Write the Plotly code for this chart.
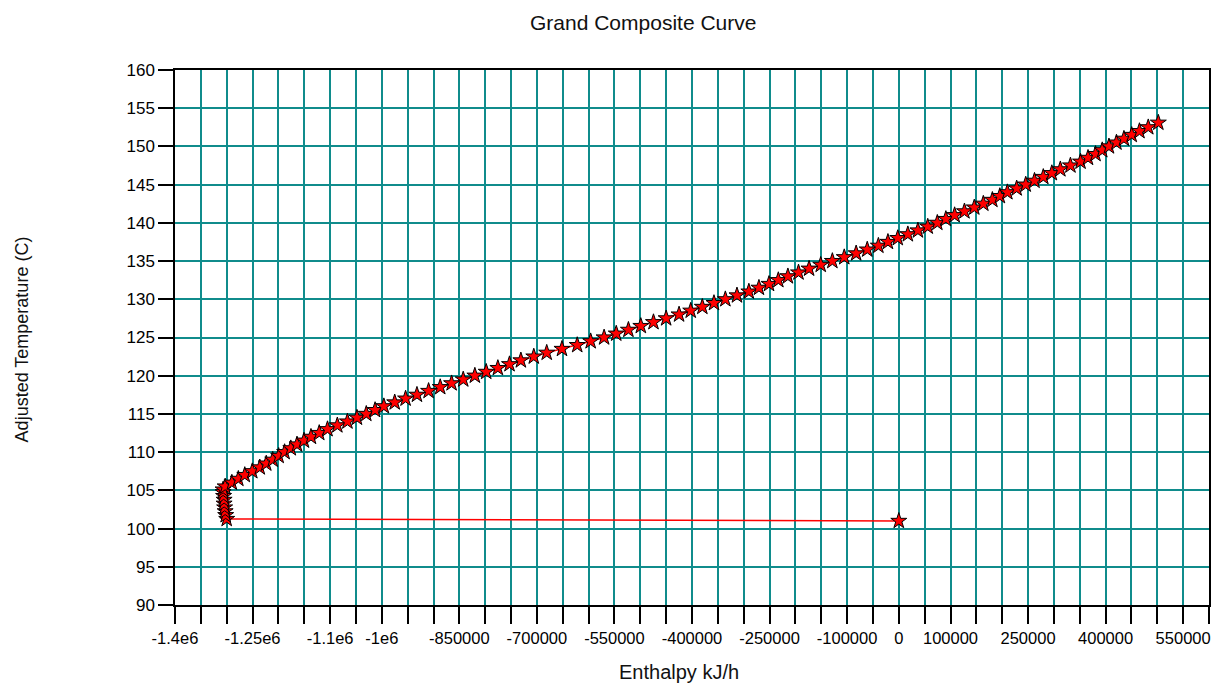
import plotly.graph_objects as go

# ---- data ----
# Horizontal leg + vertical stack at the pinch region
leg_enthalpy = [0, -1300000, -1302000, -1303000, -1304000, -1305000, -1305000, -1306000, -1307000, -1307000]
leg_temperature = [101.0, 101.25, 101.75, 102.25, 102.75, 103.25, 103.75, 104.25, 104.75, 105.1]

# Main curve of the grand composite
curve_temperature = [
    105.5, 106.0, 106.5, 107.0, 107.5, 108.0, 108.5, 109.0, 109.5, 110.0,
    110.5, 111.0, 111.5, 112.0, 112.5, 113.0, 113.5, 114.0, 114.5, 115.0,
    115.5, 116.0, 116.5, 117.0, 117.5, 118.0, 118.5, 119.0, 119.5, 120.0,
    120.5, 121.0, 121.5, 122.0, 122.5, 123.0, 123.5, 124.0, 124.5, 125.0,
    125.5, 126.0, 126.5, 127.0, 127.5, 128.0, 128.5, 129.0, 129.5, 130.0,
    130.5, 131.0, 131.5, 132.0, 132.5, 133.0, 133.5, 134.0, 134.5, 135.0,
    135.5, 136.0, 136.5, 137.0, 137.5, 138.0, 138.5, 139.0, 139.5, 140.0,
    140.5, 141.0, 141.5, 142.0, 142.5, 143.0, 143.5, 144.0, 144.5, 145.0,
    145.5, 146.0, 146.5, 147.0, 147.5, 148.0, 148.5, 149.0, 149.5, 150.0,
    150.5, 151.0, 151.5, 152.0, 152.5, 153.1,
]
curve_enthalpy = [
    -1303000, -1290000, -1277500, -1265000, -1250500, -1236000, -1223500, -1211000, -1199500, -1188000,
    -1176000, -1164000, -1150500, -1137000, -1121000, -1105000, -1086000, -1066500, -1048000, -1030000,
    -1013000, -996000, -975000, -954000, -932000, -909500, -887000, -865000, -842500, -820000,
    -798000, -775500, -753000, -731000, -706000, -681000, -651500, -622000, -596000, -570000,
    -546500, -523000, -499000, -474500, -450000, -425000, -402500, -380000, -357500, -335500,
    -313000, -290000, -270500, -251000, -233000, -214500, -194000, -173500, -151000, -128500,
    -105500, -82500, -61000, -39500, -21000, -2000, 17500, 37000, 56000, 74500,
    91000, 108000, 127000, 146000, 163500, 181000, 195500, 210000, 228000, 245500,
    262500, 279500, 296000, 312500, 332000, 351500, 366000, 380500, 393500, 406500,
    421000, 435500, 450500, 465500, 482500, 502000,
]

# ---- axis ticks ----
x_tick_values = list(range(-1400000, 600001, 50000))
x_tick_labels_shown = {
    -1400000: "-1.4e6", -1250000: "-1.25e6", -1100000: "-1.1e6", -1000000: "-1e6",
    -850000: "-850000", -700000: "-700000", -550000: "-550000", -400000: "-400000",
    -250000: "-250000", -100000: "-100000", 0: "0", 100000: "100000",
    250000: "250000", 400000: "400000", 550000: "550000",
}
x_tick_text = [x_tick_labels_shown.get(v, "") for v in x_tick_values]
y_tick_values = list(range(90, 161, 5))

FONT = "Liberation Sans, Arial, sans-serif"
GRID = "#108c8c"

fig = go.Figure()
fig.add_trace(go.Scatter(
    x=leg_enthalpy + curve_enthalpy,
    y=leg_temperature + curve_temperature,
    mode="lines+markers",
    line=dict(color="#ff0000", width=1.5),
    marker=dict(symbol="star", size=12, color="#ff0000",
                line=dict(color="#000000", width=1)),
    showlegend=False,
    hoverinfo="x+y",
))

fig.update_layout(
    width=1214, height=687, autosize=False,
    margin=dict(l=175, r=3, t=70, b=82),
    paper_bgcolor="white", plot_bgcolor="white",
    font=dict(family=FONT, size=16, color="#000000"),
    xaxis=dict(
        range=[-1400000, 600000], tickmode="array",
        tickvals=x_tick_values, ticktext=x_tick_text,
        showgrid=True, gridcolor=GRID, gridwidth=1.6,
        showline=True, linecolor="black", linewidth=1.5, mirror=True,
        ticks="outside", ticklen=17, tickwidth=1.5, tickcolor="black",
        zeroline=False, tickfont=dict(family=FONT, size=16.5, color="black"),
    ),
    yaxis=dict(
        range=[90, 160], tickmode="array", tickvals=y_tick_values,
        showgrid=True, gridcolor=GRID, gridwidth=1.6,
        showline=True, linecolor="black", linewidth=1.5, mirror=True,
        ticks="outside", ticklen=15, tickwidth=1.5, tickcolor="black",
        zeroline=False, tickfont=dict(family=FONT, size=17, color="black"),
    ),
    annotations=[
        dict(text="Grand Composite Curve", xref="paper", yref="paper",
             x=0.4527, y=1.0897, xanchor="center", yanchor="middle",
             showarrow=False, font=dict(family=FONT, size=21, color="#111111")),
        dict(text="Enthalpy kJ/h", xref="paper", yref="paper",
             x=0.4875, y=-0.1252, xanchor="center", yanchor="middle",
             showarrow=False, font=dict(family=FONT, size=20, color="#111111")),
        dict(text="Adjusted Temperature (C)", xref="paper", yref="paper",
             x=-0.1477, y=0.497, xanchor="center", yanchor="middle", textangle=-90,
             showarrow=False, font=dict(family=FONT, size=18, color="#111111")),
    ],
)

fig.write_html("out.html")
